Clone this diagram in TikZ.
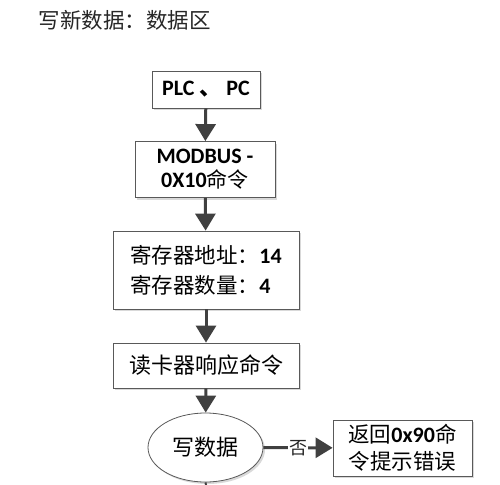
\documentclass[tikz,border=0pt]{standalone}
\usepackage{fontspec}
\setmainfont{Carlito}
\newfontfamily\cjk{Noto Sans CJK SC}
\usetikzlibrary{arrows.meta,shadows,shapes.geometric}
\definecolor{arr}{HTML}{404040}
\begin{document}
\begin{tikzpicture}[x=1pt,y=-1pt,
  box/.style={draw=black!65,line width=0.8pt,fill=white,inner sep=0pt,
    drop shadow={shadow xshift=2pt,shadow yshift=-2pt,fill=black!25,opacity=0.6},
    font=\fontsize{22}{26}\selectfont},
  flow/.style={draw=arr,line width=3pt,-{Triangle[length=17pt,width=20pt]}},
  cj/.style={font=\cjk\fontsize{20}{26}\selectfont}]
\useasboundingbox (0,0) rectangle (500,484);
\node[anchor=west,font=\cjk\fontsize{21.5}{24}\selectfont,text=black!85] (title) at (35,20) {写新数据：数据区};
\node[box,minimum width=108pt,minimum height=37pt] (b1) at (206,89.5) {\bfseries PLC {\cjk 、} PC};
\node[box,minimum width=140pt,minimum height=56pt,align=center] (b2) at (205,169.5) {\bfseries MODBUS -\\[-2pt]\bfseries 0X10{\cjk\mdseries\fontsize{21}{26}\selectfont 命令}};
\node[box,minimum width=186pt,minimum height=78pt,align=left,font=\fontsize{21.5}{30}\selectfont] (b3) at (206,270) {{\cjk 寄存器地址：}\textbf{\fontsize{22}{30}\selectfont 14}\\{\cjk 寄存器数量：}\textbf{\fontsize{22}{30}\selectfont 4}};
\node[box,minimum width=186pt,minimum height=45pt,font=\cjk\fontsize{22}{26}\selectfont] (b4) at (206,365.5) {读卡器响应命令};
\node[ellipse,draw=black!65,line width=0.8pt,fill=white,minimum width=115pt,minimum height=69pt,inner sep=0pt,
  drop shadow={shadow xshift=2pt,shadow yshift=-2pt,fill=black!25,opacity=0.6},
  font=\cjk\fontsize{22}{26}\selectfont] (e) at (205.5,447.5) {写数据};
\node[box,minimum width=139pt,minimum height=56pt,align=center,font=\fontsize{21.5}{27}\selectfont] (b5) at (402.5,448) {{\cjk 返回}\textbf{\fontsize{22}{27}\selectfont 0x90}{\cjk 命}\\{\cjk 令提示错误}};
\coordinate (bot) at (207,490);
\draw[flow] (b1) -- (b2);
\draw[flow] (b2) -- (b3);
\draw[flow] (b3) -- (b4);
\draw[flow] (b4) -- (e);
\draw[flow] (e) -- node[pos=0.5,fill=white,inner sep=1pt,font=\cjk\fontsize{18}{20}\selectfont,text=black!85]{否} (b5);
\draw[draw=arr,line width=2pt] (e.south) -- (bot);
\end{tikzpicture}
\end{document}
